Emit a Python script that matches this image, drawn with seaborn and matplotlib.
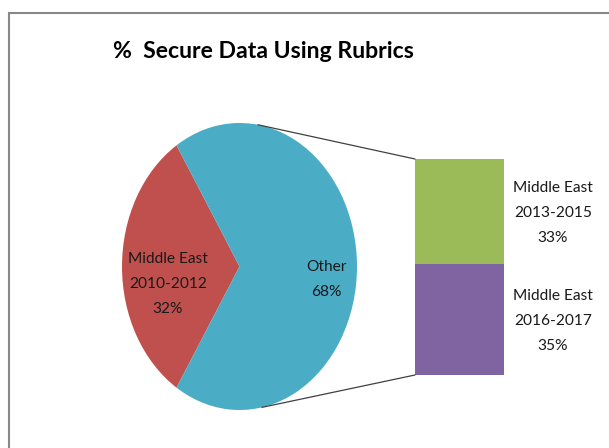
import numpy as np
import seaborn as sns
import matplotlib.pyplot as plt
from matplotlib.patches import ConnectionPatch
from matplotlib.lines import Line2D

# data
title = "%  Secure Data Using Rubrics"
pie_labels = ["Middle East\n2010-2012", "Other"]
pie_values = [32, 68]
pie_colors = ["#C0504D", "#4BACC6"]

bar_labels = ["Middle East\n2013-2015", "Middle East\n2016-2017"]
bar_values = [33, 35]
bar_colors = ["#9BBB59", "#8064A2"]

sns.set_style("white")
plt.rcParams["font.family"] = ["Lato", "DejaVu Sans"]

W, H = 609, 448
fig = plt.figure(figsize=(W / 100, H / 100), dpi=100)


def box(l, t, r, b):
    return [l / W, 1 - b / H, (r - l) / W, (b - t) / H]


# pie part (stretched like the original)
pax = fig.add_axes(box(122, 123, 357, 410))
start = 180 - pie_values[0] / sum(pie_values) * 180
pax.pie(pie_values, colors=pie_colors, startangle=start, radius=1,
        wedgeprops=dict(linewidth=0), frame=True)
pax.set_aspect("auto")
pax.set_xlim(-1, 1)
pax.set_ylim(-1, 1)
pax.axis("off")

lab_kw = dict(ha="center", va="center", fontsize=11.2, color="#1a1a1a", linespacing=2.0)
pax.text(-0.61, -0.125, f"{pie_labels[0]}\n{pie_values[0]}%", **lab_kw)
pax.text(0.74, -0.094, f"{pie_labels[1]}\n{pie_values[1]}%", **lab_kw)

# stacked bar part
bax = fig.add_axes(box(415, 159, 504, 375))
total = sum(bar_values)
sns.barplot(x=[0], y=[total], color=bar_colors[0], width=1, ax=bax,
            saturation=1, linewidth=0)
sns.barplot(x=[0], y=[bar_values[1]], color=bar_colors[1], width=1, ax=bax,
            saturation=1, linewidth=0)
bax.set_xlim(-0.5, 0.5)
bax.set_ylim(0, total)
bax.axis("off")

mids = [bar_values[1] + bar_values[0] / 2, bar_values[1] / 2]
for lab, v, m in zip(bar_labels, bar_values, mids):
    bax.text(1.05, m - 0.5, f"{lab}\n{v}%", clip_on=False, **lab_kw)

# connector lines
for ang, yb in [(81, total), (-79, 0)]:
    a = np.deg2rad(ang)
    con = ConnectionPatch(xyA=(np.cos(a), np.sin(a)), coordsA=pax.transData,
                          xyB=(-0.5, yb), coordsB=bax.transData,
                          color="#404040", lw=0.9)
    fig.add_artist(con)

fig.text(263 / W, 1 - 52 / H, title, ha="center", va="center",
         fontsize=16.6, fontweight="bold", color="black")

# chart frame (top and left edges visible)
fig.add_artist(Line2D([9 / W, 1], [1 - 13 / H, 1 - 13 / H], color="#888888", lw=1.5))
fig.add_artist(Line2D([9 / W, 9 / W], [1 - 13 / H, 0], color="#888888", lw=1.5))

fig.savefig("out.png", dpi=100)
